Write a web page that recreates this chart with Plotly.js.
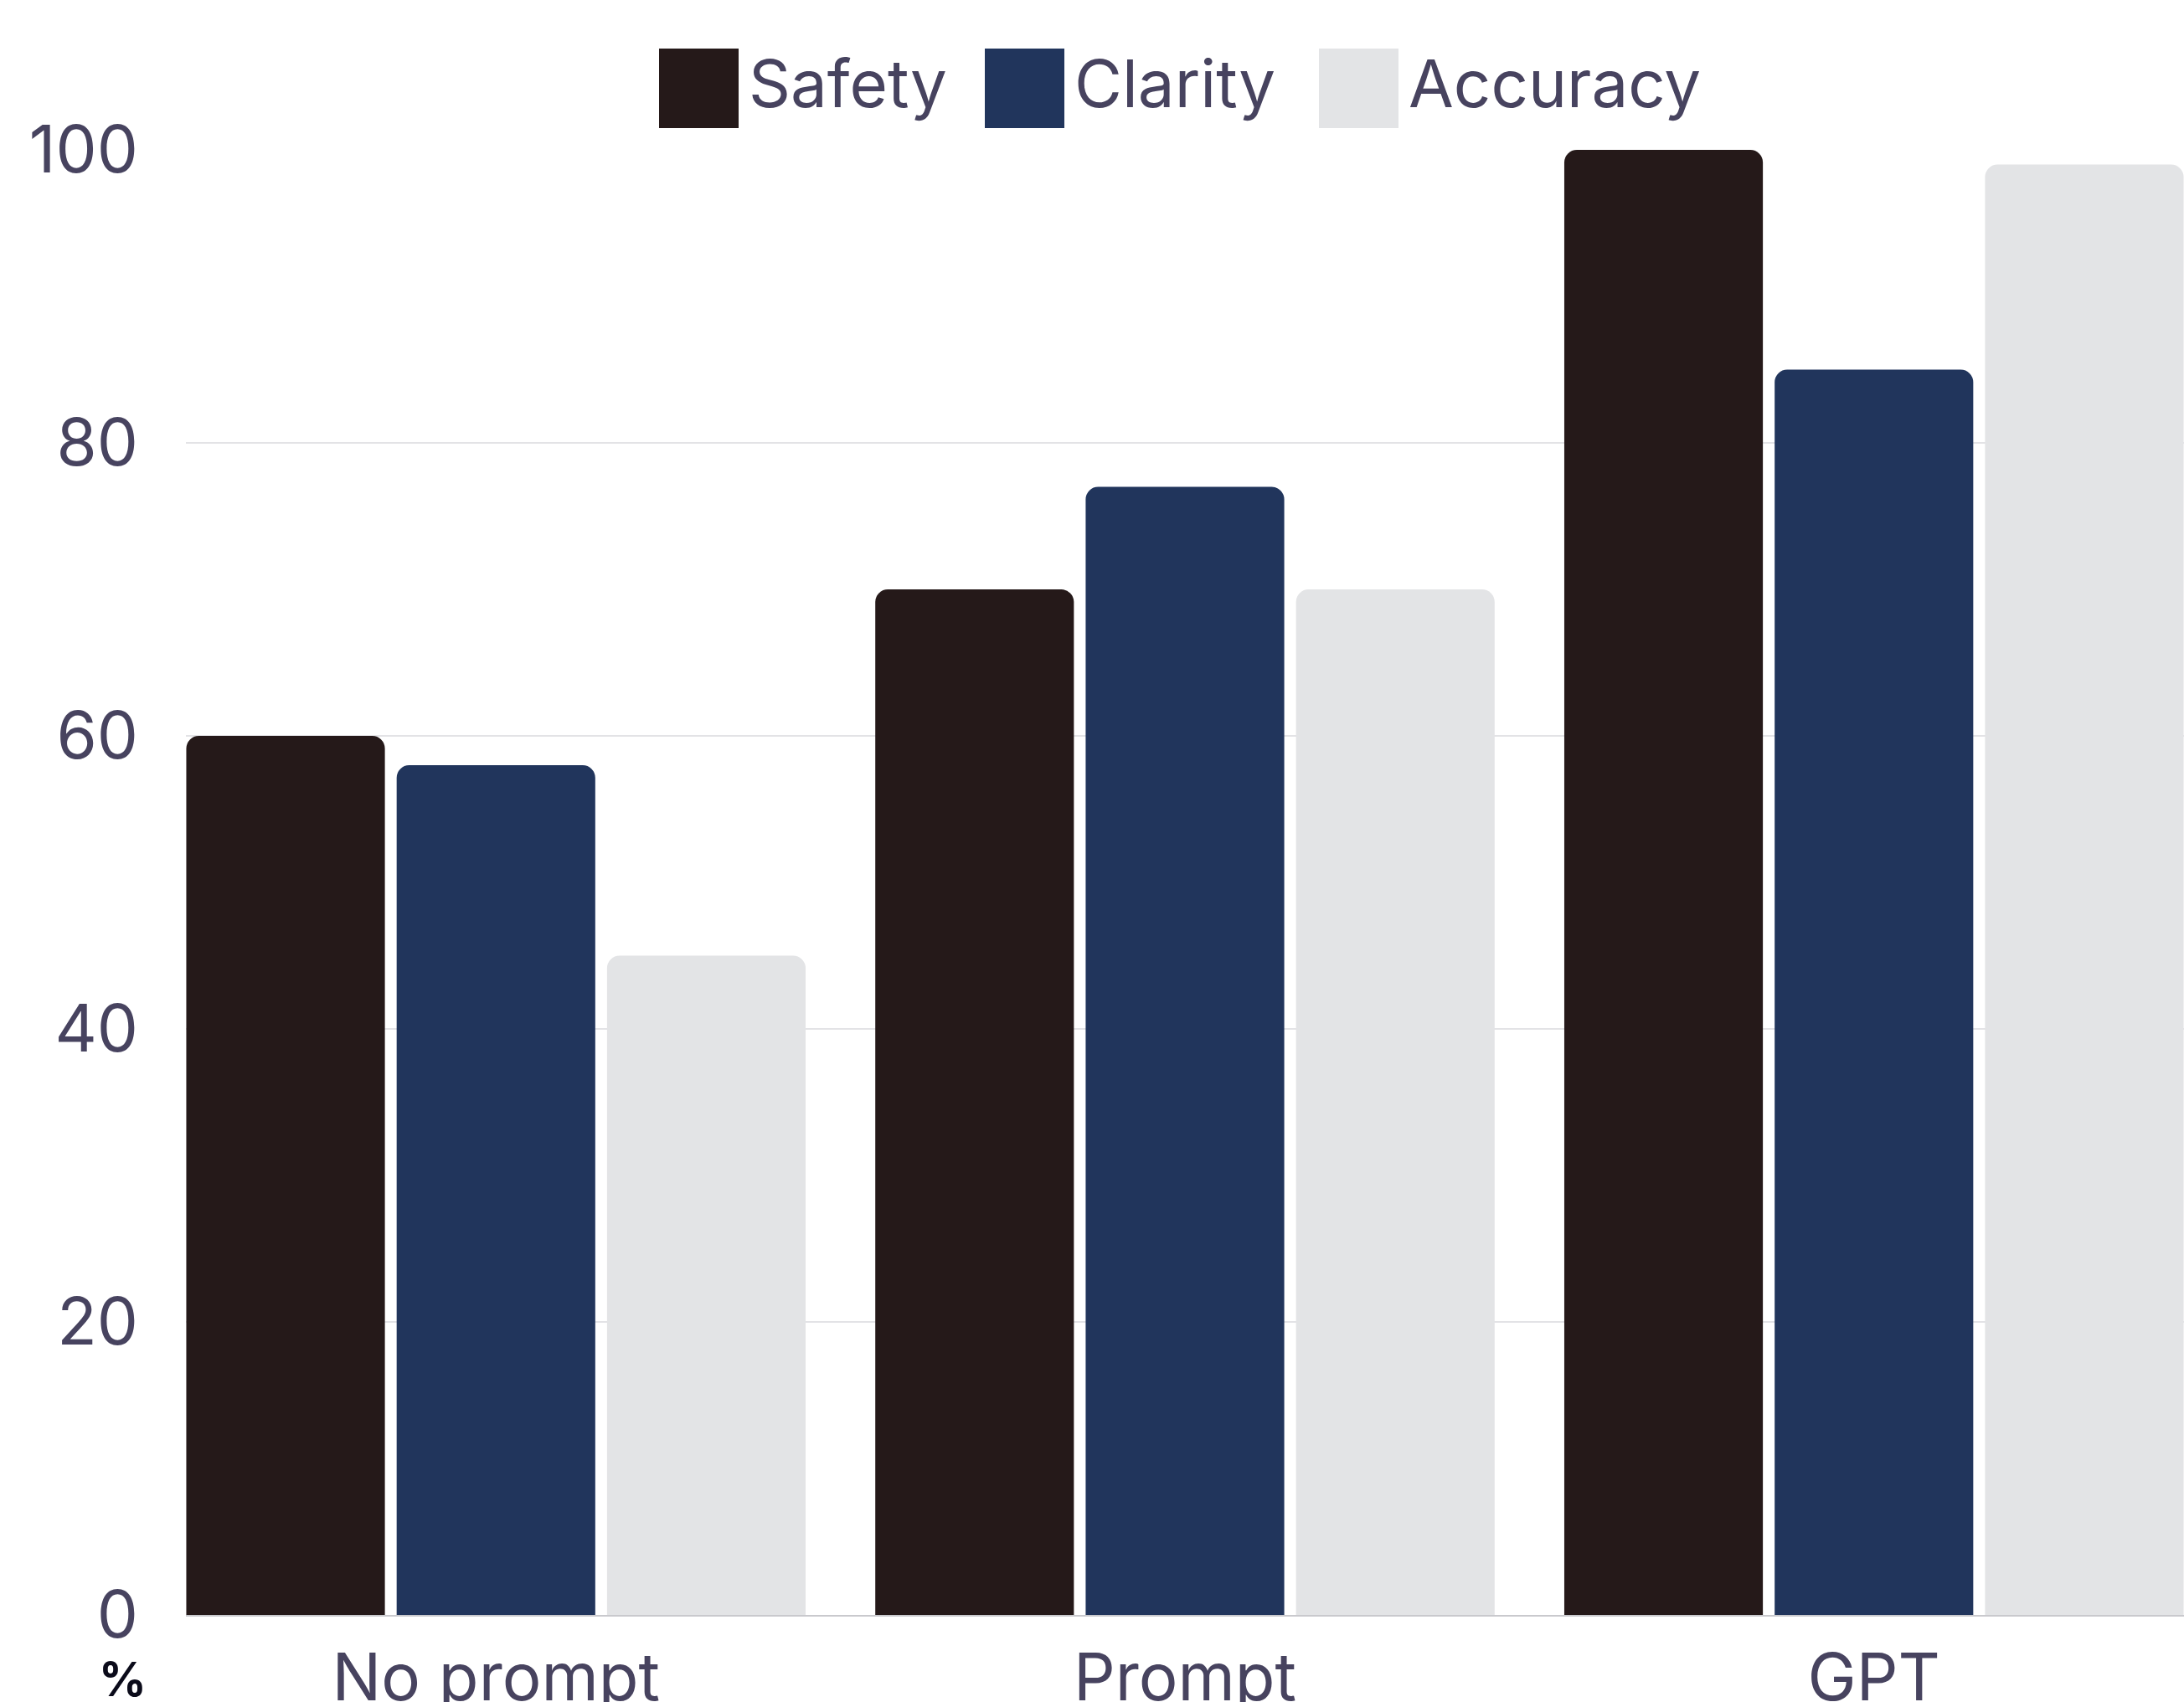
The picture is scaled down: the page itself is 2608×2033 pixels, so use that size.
<!DOCTYPE html>
<html>
<head>
<meta charset="utf-8">
<script src="https://cdn.plot.ly/plotly-3.0.1.min.js"></script>
<style>
  html, body { margin: 0; padding: 0; background: #ffffff; }
  #chart { width: 2608px; height: 2033px; }
</style>
</head>
<body>
<div id="chart"></div>
<script>
// ---- data ----
const categories = ['No prompt', 'Prompt', 'GPT'];
const safety = [60, 70, 100];
const clarity = [58, 77, 85];
const accuracy = [45, 70, 99];
const seriesNames = ['Safety', 'Clarity', 'Accuracy'];
const seriesColors = ['#251919', '#21355c', '#e3e4e6'];
const yTickVals = [0, 20, 40, 60, 80, 100];
const yTickText = ['0', '20', '40', '60', '80', '100'];
const unitLabel = '%';

// ---- layout constants ----
const W = 2608, H = 2033;
const M = { l: 222, r: 0, t: 179, b: 104 };
const plotW = W - M.l - M.r, plotH = H - M.t - M.b;
const textColor = '#47435f';
const fontFamily = 'Inter, "Liberation Sans", Arial, sans-serif';
const fontSize = 78;

const px2x = px => (px - M.l) / plotW;
const py2y = py => (H - M.b - py) / plotH;

const seriesValues = [safety, clarity, accuracy];
const traces = seriesNames.map((name, i) => ({
  type: 'bar',
  name: name,
  x: categories,
  y: seriesValues[i],
  marker: { color: seriesColors[i], line: { width: 0 }, cornerradius: 15 },
  showlegend: false,
  hoverinfo: 'x+y+name'
}));

// custom legend (large square swatches)
const legendSwatchLeft = [787, 1176, 1575];
const swatchSize = 95;
const swatchTop = 58;
const shapes = [];
const annotations = [];
seriesNames.forEach((name, i) => {
  const x0 = legendSwatchLeft[i];
  shapes.push({
    type: 'rect', xref: 'paper', yref: 'paper',
    x0: px2x(x0), x1: px2x(x0 + swatchSize),
    y0: py2y(swatchTop + swatchSize), y1: py2y(swatchTop),
    fillcolor: seriesColors[i], line: { width: 0 }, layer: 'above'
  });
  annotations.push({
    xref: 'paper', yref: 'paper',
    x: px2x(x0 + swatchSize + 10), y: py2y(swatchTop + swatchSize / 2 - 6),
    xanchor: 'left', yanchor: 'middle', showarrow: false,
    text: name,
    font: { family: fontFamily, size: fontSize, color: textColor }
  });
});
annotations.push({
  xref: 'paper', yref: 'paper',
  x: px2x(146), y: py2y(2006),
  xanchor: 'center', yanchor: 'middle', showarrow: false,
  text: '<b>' + unitLabel + '</b>',
  font: { family: fontFamily, size: 56, color: '#0b0b1a' }
});

const layout = {
  width: W, height: H,
  margin: M,
  paper_bgcolor: '#ffffff',
  plot_bgcolor: '#ffffff',
  barmode: 'group',
  bargap: 0.084,
  bargroupgap: 0.056,
  showlegend: false,
  font: { family: fontFamily, size: fontSize, color: textColor },
  xaxis: {
    type: 'category',
    range: [-0.45, 2.45],
    showgrid: false,
    zeroline: false,
    showline: true,
    linecolor: '#c9c9cd',
    linewidth: 2,
    ticks: '',
    ticklabelstandoff: 6,
    tickfont: { family: fontFamily, size: fontSize, color: textColor }
  },
  yaxis: {
    range: [0, 100],
    tickvals: yTickVals,
    ticktext: yTickText,
    showgrid: true,
    gridcolor: '#e3e3e6',
    gridwidth: 2,
    zeroline: false,
    showline: false,
    ticks: '',
    ticklabelstandoff: 56,
    tickfont: { family: fontFamily, size: fontSize, color: textColor }
  },
  shapes: shapes,
  annotations: annotations
};

Plotly.newPlot('chart', traces, layout, { displayModeBar: false, staticPlot: true });
</script>
</body>
</html>
